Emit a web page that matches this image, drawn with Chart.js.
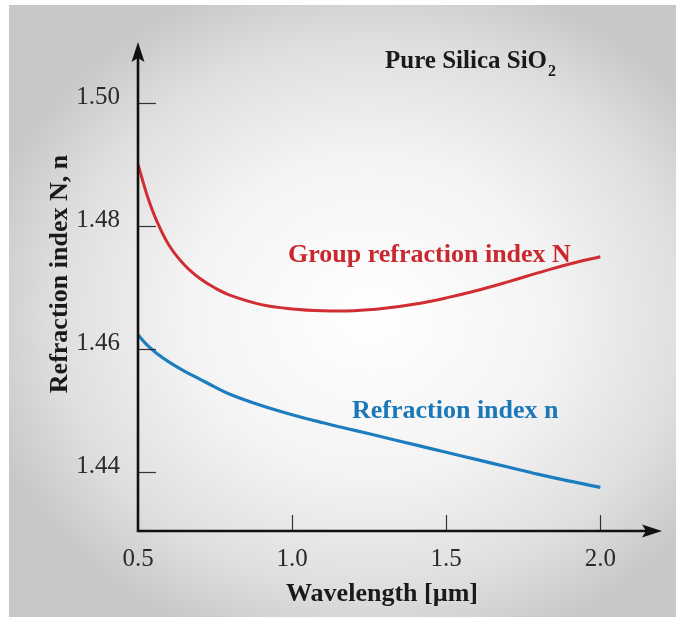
<!DOCTYPE html>
<html>
<head>
<meta charset="utf-8">
<script src="https://cdn.jsdelivr.net/npm/chart.js@4/dist/chart.umd.min.js"></script>
<style>
  html, body { margin: 0; padding: 0; background: #ffffff; }
  #wrap { width: 676px; height: 617px; }
</style>
</head>
<body>
<div id="wrap"><canvas id="chart" width="676" height="617"></canvas></div>
<script>
// Wavelength samples (µm)
const wavelengths = [0.5, 0.53, 0.56, 0.6, 0.65, 0.7, 0.75, 0.8, 0.9, 1.0, 1.1, 1.2, 1.3, 1.4, 1.5, 1.6, 1.7, 1.8, 1.9, 2.0];
// Group refraction index N
const groupIndex = [1.4900, 1.4849, 1.4809, 1.4769, 1.4737, 1.4715, 1.4699, 1.4687, 1.4672, 1.4665, 1.4662, 1.4662, 1.4666, 1.4673, 1.4683, 1.4695, 1.4709, 1.4724, 1.4738, 1.4750];
// Refraction index n
const refIndex = [1.4623, 1.4606, 1.4593, 1.4579, 1.4564, 1.4551, 1.4538, 1.4526, 1.4508, 1.4493, 1.4480, 1.4468, 1.4456, 1.4444, 1.4432, 1.4420, 1.4408, 1.4396, 1.4385, 1.4375];

// Axis ticks
const xTicks = [0.5, 1.0, 1.5, 2.0];
const xTickLabels = ['0.5', '1.0', '1.5', '2.0'];
const yTicks = [1.44, 1.46, 1.48, 1.50];
const yTickLabels = ['1.44', '1.46', '1.48', '1.50'];

const xTitle = 'Wavelength [\u00b5m]';
const yTitle = 'Refraction index N, n';
const groupLabel = 'Group refraction index N';
const refLabel = 'Refraction index n';

const RED = '#c9282e';
const BLUE = '#1b78b8';
const SERIF = '"Liberation Serif", "DejaVu Serif", serif';

function toPoints(xs, ys) {
  return xs.map((x, i) => ({ x: x, y: ys[i] }));
}

// Soft vignette panel behind the plot
const backdrop = {
  id: 'backdrop',
  beforeDraw(chart) {
    const ctx = chart.ctx;
    const W = chart.width, H = chart.height;
    ctx.save();
    ctx.fillStyle = '#ffffff';
    ctx.fillRect(0, 0, W, H);
    const px = 9, py = 5, pw = W - px, ph = H - py;
    const cx = 370, cy = 315, rx = 400, ry = 350;
    ctx.beginPath();
    ctx.rect(px, py, pw, ph);
    ctx.clip();
    ctx.translate(cx, cy);
    ctx.scale(rx / ry, 1);
    const g = ctx.createRadialGradient(0, 0, 0, 0, 0, ry);
    g.addColorStop(0, '#ffffff');
    g.addColorStop(0.45, '#f4f4f4');
    g.addColorStop(0.78, '#dfdfdf');
    g.addColorStop(1, '#c8c8c8');
    ctx.fillStyle = g;
    ctx.fillRect(-cx * ry / rx - 50, -cy - 50, (W + 100) * ry / rx + 100, H + 100);
    ctx.restore();
  }
};

// Arrow axes, inward ticks and text
const decorations = {
  id: 'decorations',
  afterDatasetsDraw(chart) {
    const ctx = chart.ctx;
    const xs = chart.scales.x, ys = chart.scales.y;
    const area = chart.chartArea;
    const x0 = xs.getPixelForValue(xs.min);
    const y0 = ys.getPixelForValue(ys.min);
    ctx.save();

    // tick marks
    ctx.strokeStyle = '#333333';
    ctx.lineWidth = 1.2;
    yTicks.forEach(v => {
      const y = Math.round(ys.getPixelForValue(v)) + 0.5;
      ctx.beginPath();
      ctx.moveTo(x0, y);
      ctx.lineTo(x0 + 18, y);
      ctx.stroke();
    });
    xTicks.forEach(v => {
      if (v === xs.min) return;
      const x = Math.round(xs.getPixelForValue(v)) + 0.5;
      ctx.beginPath();
      ctx.moveTo(x, y0);
      ctx.lineTo(x, y0 - 16);
      ctx.stroke();
    });

    // axis lines
    ctx.strokeStyle = '#111111';
    ctx.fillStyle = '#111111';
    ctx.lineWidth = 2.6;
    ctx.beginPath();
    ctx.moveTo(x0, y0);
    ctx.lineTo(x0, area.top + 14);
    ctx.moveTo(x0 - 1.3, y0);
    ctx.lineTo(area.right - 14, y0);
    ctx.stroke();
    // arrow heads
    ctx.beginPath();
    ctx.moveTo(x0, area.top);
    ctx.lineTo(x0 - 6.5, area.top + 20);
    ctx.lineTo(x0, area.top + 16);
    ctx.lineTo(x0 + 6.5, area.top + 20);
    ctx.closePath();
    ctx.fill();
    ctx.beginPath();
    ctx.moveTo(area.right, y0);
    ctx.lineTo(area.right - 20, y0 - 6.5);
    ctx.lineTo(area.right - 16, y0);
    ctx.lineTo(area.right - 20, y0 + 6.5);
    ctx.closePath();
    ctx.fill();

    // tick labels
    ctx.fillStyle = '#2a2a2a';
    ctx.font = '25px ' + SERIF;
    ctx.textAlign = 'right';
    ctx.textBaseline = 'alphabetic';
    yTicks.forEach((v, i) => {
      ctx.fillText(yTickLabels[i], x0 - 18, ys.getPixelForValue(v) + 1);
    });
    ctx.textAlign = 'center';
    xTicks.forEach((v, i) => {
      ctx.fillText(xTickLabels[i], xs.getPixelForValue(v), y0 + 35);
    });

    // axis titles
    ctx.fillStyle = '#1a1a1a';
    ctx.font = 'bold 26px ' + SERIF;
    ctx.textAlign = 'center';
    ctx.fillText(xTitle, 382, 601);
    ctx.save();
    ctx.translate(67, 274);
    ctx.rotate(-Math.PI / 2);
    ctx.fillText(yTitle, 0, 0);
    ctx.restore();

    // heading with subscript
    ctx.textAlign = 'left';
    ctx.font = 'bold 25px ' + SERIF;
    const head = 'Pure Silica SiO';
    ctx.fillText(head, 385, 68);
    const hw = ctx.measureText(head).width;
    ctx.font = 'bold 16px ' + SERIF;
    ctx.fillText('2', 385 + hw + 1, 76);

    // curve labels
    ctx.font = 'bold 26px ' + SERIF;
    ctx.fillStyle = RED;
    ctx.fillText(groupLabel, 288, 262);
    ctx.fillStyle = BLUE;
    ctx.fillText(refLabel, 352, 418);

    ctx.restore();
  }
};

new Chart(document.getElementById('chart'), {
  type: 'line',
  data: {
    datasets: [
      {
        label: groupLabel,
        data: toPoints(wavelengths, groupIndex),
        borderColor: '#d02e33',
        borderWidth: 3,
        pointRadius: 0,
        tension: 0.4,
        fill: false
      },
      {
        label: refLabel,
        data: toPoints(wavelengths, refIndex),
        borderColor: '#1c7dbf',
        borderWidth: 3.2,
        pointRadius: 0,
        tension: 0.4,
        fill: false
      }
    ]
  },
  options: {
    responsive: false,
    animation: false,
    devicePixelRatio: 1,
    layout: { padding: { left: 138, right: 14, top: 42, bottom: 86 } },
    plugins: { legend: { display: false }, tooltip: { enabled: false } },
    scales: {
      x: { type: 'linear', min: 0.5, max: 2.2, display: false },
      y: { type: 'linear', min: 1.4304, max: 1.5099, display: false }
    }
  },
  plugins: [backdrop, decorations]
});
</script>
</body>
</html>
